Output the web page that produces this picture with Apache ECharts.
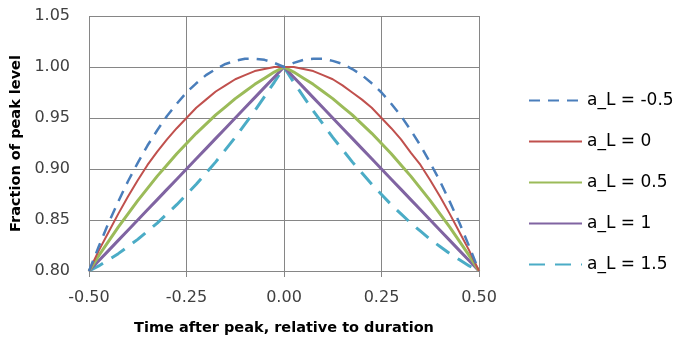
<!DOCTYPE html>
<html>
<head>
<meta charset="utf-8">
<script src="https://cdn.jsdelivr.net/npm/echarts@6/dist/echarts.min.js"></script>
<style>
  html, body { margin: 0; padding: 0; background: #fff; }
  #chart { width: 680px; height: 341px; }
</style>
</head>
<body>
<div id="chart"></div>
<script>
// Time after peak, relative to duration
const timeSteps = [-0.500, -0.475, -0.450, -0.425, -0.400, -0.375, -0.350, -0.325, -0.300, -0.275,
                   -0.250, -0.225, -0.200, -0.175, -0.150, -0.125, -0.100, -0.075, -0.050, -0.025,
                   0.000,
                   0.025, 0.050, 0.075, 0.100, 0.125, 0.150, 0.175, 0.200, 0.225, 0.250,
                   0.275, 0.300, 0.325, 0.350, 0.375, 0.400, 0.425, 0.450, 0.475, 0.500];

// Fraction of peak level for each a_L shape parameter
const aLminus05 = [0.800, 0.824, 0.847, 0.868, 0.888, 0.906, 0.923, 0.938, 0.952, 0.964,
                   0.975, 0.984, 0.992, 0.998, 1.003, 1.006, 1.008, 1.008, 1.007, 1.004,
                   1.000,
                   1.004, 1.007, 1.008, 1.008, 1.006, 1.003, 0.998, 0.992, 0.984, 0.975,
                   0.964, 0.952, 0.938, 0.923, 0.906, 0.888, 0.868, 0.847, 0.824, 0.800];
const aL0       = [0.800, 0.820, 0.838, 0.856, 0.873, 0.889, 0.904, 0.917, 0.929, 0.940,
                   0.950, 0.960, 0.968, 0.976, 0.982, 0.988, 0.992, 0.996, 0.998, 1.000,
                   1.000,
                   1.000, 0.998, 0.996, 0.992, 0.988, 0.982, 0.975, 0.968, 0.960, 0.950,
                   0.940, 0.929, 0.916, 0.904, 0.889, 0.873, 0.856, 0.838, 0.820, 0.800];
const aL05      = [0.800, 0.815, 0.829, 0.843, 0.856, 0.869, 0.881, 0.893, 0.904, 0.915,
                   0.925, 0.935, 0.944, 0.953, 0.961, 0.969, 0.976, 0.983, 0.989, 0.995,
                   1.000,
                   0.995, 0.989, 0.983, 0.976, 0.969, 0.961, 0.953, 0.944, 0.935, 0.925,
                   0.915, 0.904, 0.893, 0.881, 0.869, 0.856, 0.843, 0.829, 0.815, 0.800];
const aL1       = [0.800, 0.810, 0.820, 0.830, 0.840, 0.850, 0.860, 0.870, 0.880, 0.890,
                   0.900, 0.910, 0.920, 0.930, 0.940, 0.950, 0.960, 0.970, 0.980, 0.990,
                   1.000,
                   0.990, 0.980, 0.970, 0.960, 0.950, 0.940, 0.930, 0.920, 0.910, 0.900,
                   0.890, 0.880, 0.870, 0.860, 0.850, 0.840, 0.830, 0.820, 0.810, 0.800];
const aL15      = [0.800, 0.805, 0.811, 0.817, 0.824, 0.831, 0.839, 0.847, 0.856, 0.865,
                   0.875, 0.885, 0.896, 0.907, 0.919, 0.931, 0.944, 0.957, 0.971, 0.985,
                   1.000,
                   0.985, 0.971, 0.957, 0.944, 0.931, 0.919, 0.907, 0.896, 0.885, 0.875,
                   0.865, 0.856, 0.847, 0.839, 0.831, 0.824, 0.817, 0.811, 0.805, 0.800];

const seriesNames = ['a_L = -0.5', 'a_L = 0', 'a_L = 0.5', 'a_L = 1', 'a_L = 1.5'];
const seriesValues = [aLminus05, aL0, aL05, aL1, aL15];
const seriesColors = ['#4a7ebb', '#c0504d', '#9bbb59', '#8064a2', '#4bacc6'];
const seriesWidths = [2.5, 2, 3, 3, 3];
const seriesDashes = [[11, 8], null, null, null, [16, 10]];

const FONT = 'DejaVu Sans';

const chart = echarts.init(document.getElementById('chart'), null, { renderer: 'canvas' });

const series = seriesNames.map((name, i) => ({
  name: name,
  type: 'line',
  smooth: false,
  symbol: 'none',
  data: timeSteps.map((t, j) => [t, seriesValues[i][j]]),
  lineStyle: {
    color: seriesColors[i],
    width: seriesWidths[i],
    type: seriesDashes[i] || 'solid',
    cap: 'butt',
    join: 'round'
  },
  itemStyle: { color: seriesColors[i] },
  z: 10 - i
}));

chart.setOption({
  animation: false,
  backgroundColor: '#ffffff',
  grid: { left: 89, top: 16, right: 201, bottom: 66 },
  xAxis: {
    type: 'value',
    min: -0.5,
    max: 0.5,
    interval: 0.25,
    name: 'Time after peak, relative to duration',
    nameLocation: 'middle',
    nameGap: 50,
    nameTextStyle: { fontFamily: FONT, fontWeight: 'bold', fontSize: 14.5, color: '#000' },
    axisLine: { lineStyle: { color: '#868686', width: 1 } },
    axisTick: { show: true, inside: false, length: 6, lineStyle: { color: '#868686' } },
    axisLabel: {
      fontFamily: FONT, fontSize: 16, color: '#404040', margin: 19,
      formatter: v => v.toFixed(2)
    },
    splitLine: { show: true, lineStyle: { color: '#868686', width: 1 } }
  },
  yAxis: {
    type: 'value',
    min: 0.8,
    max: 1.05,
    interval: 0.05,
    name: 'Fraction of peak level',
    nameLocation: 'middle',
    nameRotate: 90,
    nameGap: 64,
    nameTextStyle: { fontFamily: FONT, fontWeight: 'bold', fontSize: 14.5, color: '#000' },
    axisLine: { show: true, lineStyle: { color: '#868686', width: 1 } },
    axisTick: { show: true, inside: false, length: 6, lineStyle: { color: '#868686' } },
    axisLabel: {
      fontFamily: FONT, fontSize: 16, color: '#404040', margin: 19,
      formatter: v => v.toFixed(2)
    },
    splitLine: { show: true, lineStyle: { color: '#868686', width: 1 } }
  },
  legend: {
    orient: 'vertical',
    left: 523,
    top: 87,
    padding: [5, 5, 5, 5],
    itemWidth: 53,
    itemHeight: 14,
    itemGap: 24,
    itemStyle: { opacity: 0 },
    textStyle: { fontFamily: FONT, fontSize: 17, color: '#000' },
    data: seriesNames
  },
  series: series
});
</script>
</body>
</html>
